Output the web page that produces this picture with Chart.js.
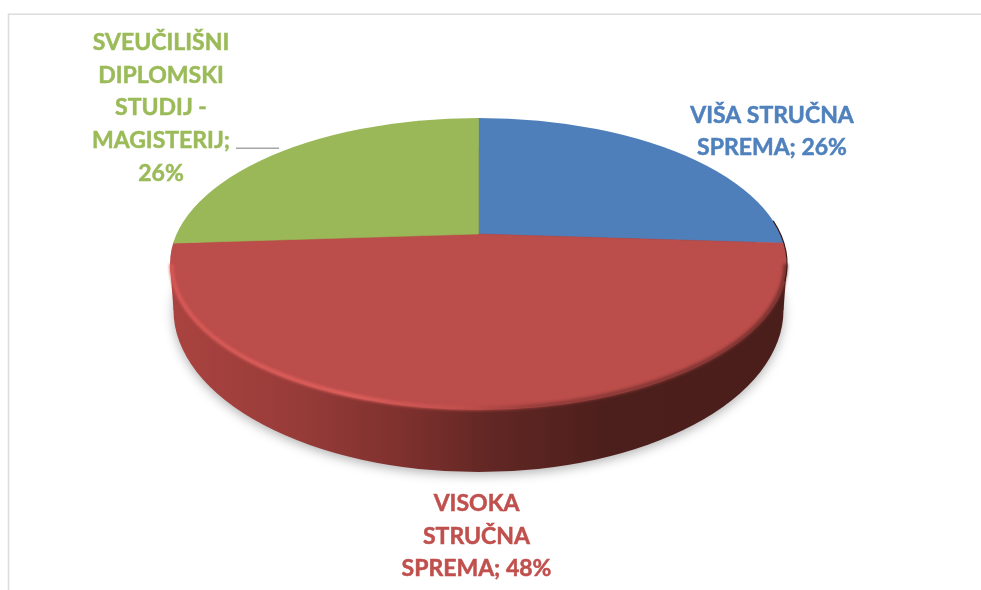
<!DOCTYPE html>
<html lang="hr">
<head>
  <meta charset="UTF-8">
  <title>Stručna sprema</title>
  <script src="https://cdn.jsdelivr.net/npm/chart.js"></script>
  <style>
    html, body { margin: 0; padding: 0; background: #fff; overflow: hidden; }
    #wrap { position: relative; width: 981px; height: 590px; }
  </style>
</head>
<body>
  <div id="wrap"><canvas id="pie"></canvas></div>

  <script>
    const categories = ['VIŠA STRUČNA SPREMA', 'VISOKA STRUČNA SPREMA', 'SVEUČILIŠNI DIPLOMSKI STUDIJ - MAGISTERIJ'];
    const shares = [26, 48, 26];
    const sliceColors = ['#4e7fba', '#bb4d4a', '#9ab857'];
    const labelColors = ['#4f81bd', '#c0504d', '#9bbb59'];

    // Where the 3D look lands on the page
    const top3d = { cx: 478.5, cy: 264, rx: 308.5, ry: 146 };
    const bottom3d = { cx: 478.5, cy: 310, rx: 305, ry: 162 };
    const hub = { x: 478.5, y: 234, squash: 0.474, reach: 400 };

    const labelFont = 'bold 23px Lato';
    const labelSpots = [
      { x: 772, y: 122.7, wrap: 175 },
      { x: 476.5, y: 511, wrap: 175 },
      { x: 161, y: 50, wrap: 150 }
    ];
    const lineGap = 32.7;

    function ellipsePath(ctx, e) {
      ctx.beginPath();
      ctx.ellipse(e.cx, e.cy, e.rx, e.ry, 0, 0, Math.PI * 2);
    }

    function drawFrame(ctx) {
      ctx.strokeStyle = '#dcdcdc';
      ctx.lineWidth = 1.6;
      ctx.beginPath();
      ctx.moveTo(8.5, 590);
      ctx.lineTo(8.5, 14.2);
      ctx.lineTo(981, 14.2);
      ctx.stroke();
    }

    function drawSide(ctx) {
      const grad = ctx.createLinearGradient(170, 0, 787, 0);
      grad.addColorStop(0, '#aa4340');
      grad.addColorStop(0.2, '#983c39');
      grad.addColorStop(0.4, '#7a2f2c');
      grad.addColorStop(0.52, '#622724');
      grad.addColorStop(0.7, '#4d1f1c');
      grad.addColorStop(1, '#4a1e1b');

      ctx.save();
      ctx.shadowColor = 'rgba(0,0,0,0.3)';
      ctx.shadowBlur = 11;
      ctx.shadowOffsetY = 3;
      ctx.fillStyle = grad;
      ellipsePath(ctx, bottom3d);
      ctx.fill();
      ctx.restore();

      // wall between the two rims
      ctx.fillStyle = grad;
      ctx.beginPath();
      ctx.moveTo(top3d.cx - top3d.rx, top3d.cy);
      ctx.lineTo(bottom3d.cx - bottom3d.rx, bottom3d.cy);
      ctx.lineTo(bottom3d.cx + bottom3d.rx, bottom3d.cy);
      ctx.lineTo(top3d.cx + top3d.rx, top3d.cy);
      ctx.closePath();
      ctx.fill();
    }

    function drawRim(ctx) {
      const grad = ctx.createLinearGradient(170, 0, 787, 0);
      grad.addColorStop(0, '#d85a57');
      grad.addColorStop(0.3, '#e0605d');
      grad.addColorStop(0.47, '#c4504d');
      grad.addColorStop(0.6, '#8d3a38');
      grad.addColorStop(1, '#75302d');

      ctx.save();
      ctx.beginPath();
      ctx.rect(0, 262, 981, 200);
      ctx.clip();
      ctx.filter = 'blur(1.5px)';
      ctx.strokeStyle = grad;
      ctx.lineWidth = 4;
      ctx.beginPath();
      ctx.ellipse(top3d.cx, top3d.cy, top3d.rx - 1.5, top3d.ry - 1.5, 0, 0, Math.PI);
      ctx.stroke();
      ctx.restore();

      // dark fringe on the right shoulder
      ctx.strokeStyle = '#3d1b19';
      ctx.lineWidth = 1.2;
      ctx.beginPath();
      ctx.ellipse(top3d.cx, top3d.cy, top3d.rx, top3d.ry, 0, -0.3, 0.12);
      ctx.stroke();
    }

    function wrapLines(ctx, text, width) {
      const lines = [];
      let line = '';
      text.split(' ').forEach(word => {
        const next = line ? line + ' ' + word : word;
        if (line && ctx.measureText(next).width > width) {
          lines.push(line);
          line = word;
        } else {
          line = next;
        }
      });
      lines.push(line);
      return lines;
    }

    function drawLabels(ctx) {
      ctx.font = labelFont;
      ctx.textAlign = 'center';
      ctx.textBaseline = 'alphabetic';
      ctx.lineWidth = 0.5;
      categories.forEach((name, i) => {
        const spot = labelSpots[i];
        ctx.fillStyle = labelColors[i];
        ctx.strokeStyle = labelColors[i];
        wrapLines(ctx, name + '; ' + shares[i] + '%', spot.wrap).forEach((line, n) => {
          ctx.fillText(line, spot.x, spot.y + n * lineGap);
          ctx.strokeText(line, spot.x, spot.y + n * lineGap);
        });
      });

      // leader line of the green label
      ctx.strokeStyle = '#a6a6a6';
      ctx.lineWidth = 1.5;
      ctx.beginPath();
      ctx.moveTo(236, 148.3);
      ctx.lineTo(279, 148.3);
      ctx.stroke();
    }

    const pie3d = {
      id: 'pie3d',
      beforeDraw(chart) {
        drawFrame(chart.ctx);
      },
      beforeDatasetDraw(chart) {
        const ctx = chart.ctx;
        const arc = chart.getDatasetMeta(0).data[0];
        const s = hub.reach / arc.outerRadius;
        drawSide(ctx);
        ctx.save();
        ellipsePath(ctx, top3d);
        ctx.clip();
        ctx.translate(hub.x, hub.y);
        ctx.scale(s, s * hub.squash);
        ctx.translate(-arc.x, -arc.y);
      },
      afterDatasetDraw(chart) {
        chart.ctx.restore();
        drawRim(chart.ctx);
      },
      afterDraw(chart) {
        drawLabels(chart.ctx);
      }
    };

    document.fonts.load(labelFont).finally(() => {
      const canvas = document.getElementById('pie');
      canvas.width = 981;
      canvas.height = 590;
      new Chart(canvas, {
        type: 'pie',
        data: {
          labels: categories,
          datasets: [{
            data: shares,
            backgroundColor: sliceColors,
            borderColor: sliceColors,
            borderWidth: 0.6,
            clip: false
          }]
        },
        options: {
          responsive: false,
          animation: false,
          plugins: {
            legend: { display: false },
            tooltip: { enabled: false }
          }
        },
        plugins: [pie3d]
      });
    });
  </script>
</body>
</html>
